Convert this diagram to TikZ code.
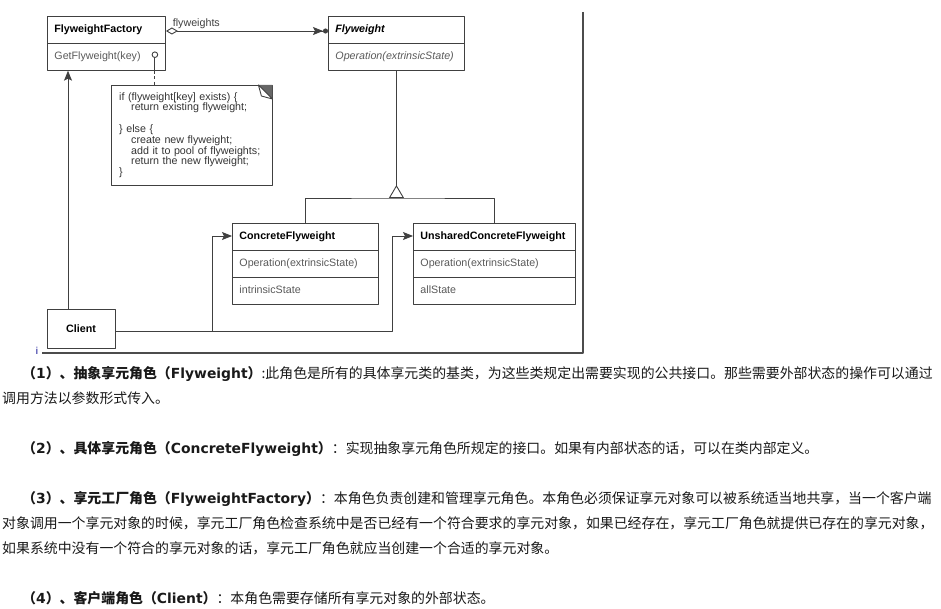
\documentclass[tikz,border=0pt]{standalone}
\usepackage{fontspec}
\setmainfont{Liberation Sans}
\newfontfamily\cjk{Noto Sans CJK SC}
\newfontfamily\verd{DejaVu Sans}
\usetikzlibrary{arrows.meta,shapes.multipart,positioning}

% bold heading of a role: (n), name (English name)
\newcommand\rolehead[3]{{\bfseries\cjk （}{\bfseries\verd #1}{\bfseries\cjk ）、#2（}{\bfseries\verd #3}{\bfseries\cjk ）}}

\begin{document}
\begin{tikzpicture}[x=1pt, y=-1pt, line join=round,
    >={Stealth[length=10pt, width=8pt, inset=2pt]},
    umlclass/.style={rectangle split, rectangle split parts=#1, draw=black!75,
        line width=0.9pt, align=left, inner xsep=7pt, inner ysep=6.75pt,
        anchor=north west, font=\fontsize{10.7}{12.5}\selectfont},
    link/.style={draw=black!75, line width=0.9pt},
    notebox/.style={anchor=north west, minimum width=161pt, minimum height=100pt,
        text width=145pt, inner xsep=8pt, align=left, text=black!80,
        font=\fontsize{10.7}{10.8}\selectfont},
    para/.style={anchor=base west, inner sep=0pt, text=black!90,
        font=\cjk\fontsize{13.9}{16}\selectfont}]

    \useasboundingbox (0,0) rectangle (941,609);

    % ------------------------------------------------------------------
    % 1. Frame of the embedded picture (shadow edges)
    % ------------------------------------------------------------------
    \draw[black!70, line width=2pt] (583,12) -- (583,353) -- (42,353);
    \node[text=blue!55!black, font=\fontsize{10}{12}\selectfont, inner sep=0pt] (cursor) at (37,351) {i};

    % ------------------------------------------------------------------
    % 2. Classes
    % ------------------------------------------------------------------
    \node[umlclass=2, text width=104pt] (factory) at (47,16)
        {\textbf{FlyweightFactory}\strut \nodepart{two} \textcolor{black!65}{GetFlyweight(key)}\strut};
    \node[umlclass=2, text width=122pt] (flyweight) at (328,16)
        {\textbf{\textit{Flyweight}}\strut \nodepart{two} \textcolor{black!65}{\textit{Operation(extrinsicState)}}\strut};
    \node[umlclass=3, text width=132pt] (concrete) at (232,223)
        {\textbf{ConcreteFlyweight}\strut \nodepart{two} \textcolor{black!65}{Operation(extrinsicState)}\strut
         \nodepart{three} \textcolor{black!65}{intrinsicState}\strut};
    \node[umlclass=3, text width=148pt] (unshared) at (413,223)
        {\textbf{UnsharedConcreteFlyweight}\strut \nodepart{two} \textcolor{black!65}{Operation(extrinsicState)}\strut
         \nodepart{three} \textcolor{black!65}{allState}\strut};
    \node[draw=black!75, line width=0.9pt, minimum width=68pt, minimum height=39pt,
        font=\fontsize{10.7}{12.5}\selectfont\bfseries] (client) at (81,328.5) {Client};

    % ------------------------------------------------------------------
    % 3. Note attached to GetFlyweight
    % ------------------------------------------------------------------
    \node[notebox] (note) at (111,85)
        {if (flyweight[key] exists) \{\\
         \hspace*{12pt}return existing flyweight;\\[10.8pt]
         \} else \{\\
         \hspace*{12pt}create new flyweight;\\
         \hspace*{12pt}add it to pool of flyweights;\\
         \hspace*{12pt}return the new flyweight;\\
         \}};
    \draw[link] (note.north west) rectangle (note.south east);
    \fill[black!60] ([xshift=-14pt]note.north east) -- (note.north east) -- ([yshift=-14pt]note.north east) -- cycle;
    \draw[link, fill=white] ([xshift=-14pt]note.north east) -- ([yshift=-14pt]note.north east)
        -- ([xshift=-11pt, yshift=-11pt]note.north east) -- cycle;

    \coordinate (pin) at ([xshift=-11pt]factory.south east);
    \draw[link] (pin) -- ++(0,13.2pt);
    \draw[link, fill=white] ([yshift=16pt]pin) circle[radius=2.8pt];
    \draw[link, dash pattern=on 3pt off 2.5pt] (pin) -- (pin |- note.north);

    % ------------------------------------------------------------------
    % 4. Association, inheritance and client links
    % ------------------------------------------------------------------
    \draw[link, {Diamond[open, length=12pt, width=7pt]}-{Stealth[length=10pt, width=8pt, inset=2pt] Circle[length=5pt]}]
        ([yshift=-15pt]factory.north east) -- ([yshift=-15pt]flyweight.north west)
        node[pos=0, anchor=south west, xshift=5pt, inner sep=1.5pt, text=black!75,
            font=\fontsize{10.7}{12.5}\selectfont] (lblfly) {flyweights};

    \coordinate (fork) at (flyweight.south |- 0,198);
    \draw[link] (concrete.north) |- (fork) -| (unshared.north);
    \draw[link, -{Triangle[open, reversed, length=13pt, width=15pt]}] (flyweight.south) -- (fork);

    \draw[link, ->] ([xshift=-13pt]client.north) -- ([xshift=-13pt]client.north |- factory.south);

    \coordinate (cin) at ([yshift=-13pt]concrete.north west);
    \coordinate (uin) at ([yshift=-13pt]unshared.north west);
    \draw[link, ->] ([yshift=-2.5pt]client.east) -| ([xshift=-20pt]cin) -- (cin);
    \draw[link, ->] ([yshift=-2.5pt]client.east) -| ([xshift=-21pt]uin) -- (uin);

    % ------------------------------------------------------------------
    % 5. Explanation of the roles
    % ------------------------------------------------------------------
    \node[para] (p1a) at (22,378) {\rolehead{1}{抽象享元角色}{Flyweight}:此角色是所有的具体享元类的基类，为这些类规定出需要实现的公共接口。那些需要外部状态的操作可以通过};
    \node[para] (p1b) at (2,403) {调用方法以参数形式传入。};
    \node[para] (p2) at (22,453) {\rolehead{2}{具体享元角色}{ConcreteFlyweight}：实现抽象享元角色所规定的接口。如果有内部状态的话，可以在类内部定义。};
    \node[para] (p3a) at (22,503) {\rolehead{3}{享元工厂角色}{FlyweightFactory}：本角色负责创建和管理享元角色。本角色必须保证享元对象可以被系统适当地共享，当一个客户端};
    \node[para] (p3b) at (2,528) {对象调用一个享元对象的时候，享元工厂角色检查系统中是否已经有一个符合要求的享元对象，如果已经存在，享元工厂角色就提供已存在的享元对象，};
    \node[para] (p3c) at (2,553) {如果系统中没有一个符合的享元对象的话，享元工厂角色就应当创建一个合适的享元对象。};
    \node[para] (p4) at (22,603) {\rolehead{4}{客户端角色}{Client}：本角色需要存储所有享元对象的外部状态。};

\end{tikzpicture}
\end{document}
